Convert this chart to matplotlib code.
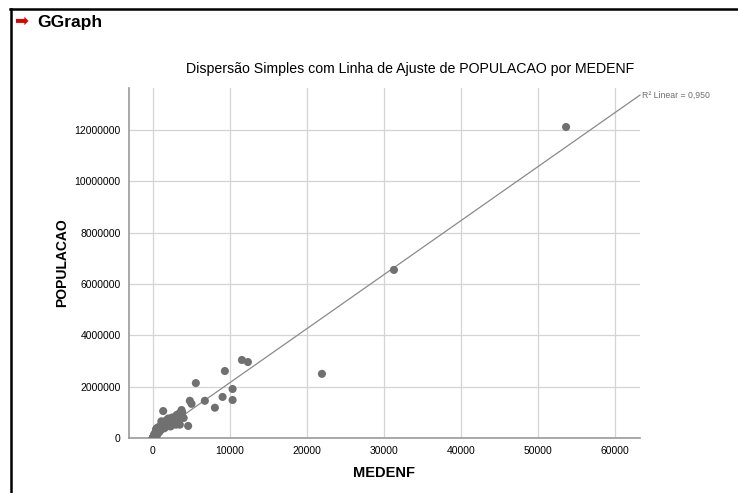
import matplotlib
matplotlib.use('Agg')
import matplotlib.pyplot as plt
from matplotlib.lines import Line2D
import numpy as np

plt.rcParams['font.family'] = ['Liberation Sans', 'DejaVu Sans']

# values (MEDENF, POPULACAO)
medenf_big = [53650, 31300, 21950, 11560, 12340, 9350, 5580, 10350, 9050,
              10350, 6750, 4800, 5020, 8050, 1340, 3720, 4580]
pop_big = [12120000, 6550000, 2500000, 3040000, 2960000, 2610000, 2140000,
           1910000, 1600000, 1480000, 1450000, 1450000, 1330000, 1180000,
           1050000, 1090000, 470000]

medenf_cluster = [30, 60, 90, 120, 150, 180, 220, 260, 300, 350, 400, 450, 500,
                  560, 620, 680, 750, 820, 900, 980, 1050, 1130, 1200, 1300,
                  1400, 1500, 1600, 1700, 1800, 1900, 2000, 2100, 2200, 2350,
                  2500, 2650, 2800, 2950, 3100, 3250, 3400, 3600, 3800, 4000,
                  3500, 250, 700, 1000, 1500, 2300, 3000, 400, 800, 150, 600,
                  1100, 1900, 2700, 3300, 500]
pop_cluster = [20000, 40000, 25000, 60000, 90000, 50000, 110000, 80000, 140000,
               120000, 200000, 150000, 260000, 180000, 300000, 220000, 350000,
               260000, 420000, 330000, 500000, 380000, 560000, 430000, 600000,
               480000, 650000, 520000, 700000, 560000, 760000, 600000, 720000,
               620000, 800000, 650000, 750000, 680000, 900000, 720000, 950000,
               800000, 1000000, 780000, 520000, 180000, 420000, 300000, 380000,
               450000, 520000, 330000, 220000, 130000, 380000, 650000, 460000,
               540000, 600000, 380000]

# many small municipalities piled up at the origin
medenf_small = [5, 10, 15, 20, 25, 35, 40, 45, 50, 55, 65, 70, 75, 80, 85, 95,
                100, 110, 130, 140, 160, 170, 190, 200, 210, 230, 240, 270,
                280, 290, 310, 320, 330, 340, 360, 380, 420, 440, 460, 480,
                2, 4, 6, 8, 12, 14, 18, 22, 28, 32, 38, 42, 48, 52, 58, 62,
                68, 72, 78, 88, 92, 105, 115, 125, 135, 145, 155, 165, 175,
                185, 195, 205, 215, 225, 235, 245, 255, 265, 275, 285]
pop_small = [3000, 5000, 6000, 8000, 7000, 9000, 12000, 10000, 14000, 11000,
             15000, 18000, 16000, 20000, 17000, 22000, 24000, 21000, 28000,
             26000, 33000, 30000, 36000, 38000, 35000, 42000, 40000, 48000,
             52000, 50000, 56000, 58000, 55000, 62000, 66000, 70000, 78000,
             82000, 86000, 90000,
             2000, 2500, 3500, 4000, 4500, 5500, 6500, 7500, 8500, 9500,
             10500, 11500, 12500, 13000, 13500, 14500, 15500, 16500, 17500,
             19000, 21000, 23000, 25000, 27000, 29000, 31000, 32000, 34000,
             37000, 39000, 41000, 43000, 44000, 46000, 47000, 49000, 51000,
             53000, 54000, 57000]

medenf = np.array(medenf_big + medenf_cluster + medenf_small, dtype=float)
populacao = np.array(pop_big + pop_cluster + pop_small, dtype=float)

x_ticks = [0, 10000, 20000, 30000, 40000, 50000, 60000]
y_ticks = [0, 2000000, 4000000, 6000000, 8000000, 10000000, 12000000]
x_lim = (-3100, 63250)
y_lim = (0, 13640000)
r2_label = 'R\u00b2 Linear = 0,950'

# linear fit
slope, intercept = np.polyfit(medenf, populacao, 1)

fig = plt.figure(figsize=(7.38, 4.93), dpi=100)
ax = fig.add_axes([129/738, 1-438/493, (640-129)/738, (438-88)/493])

ax.scatter(medenf, populacao, s=34, color='#707070', edgecolors='none', zorder=3)
xf = np.array([min(medenf), x_lim[1]])
ax.plot(xf, slope*xf + intercept, color='#8a8a8a', lw=0.9, zorder=2, clip_on=False)
ax.text(x_lim[1] + 300, slope*x_lim[1] + intercept, r2_label, fontsize=6.3,
        color='#707070', ha='left', va='center')

ax.set_xlim(*x_lim)
ax.set_ylim(*y_lim)
ax.set_xticks(x_ticks)
ax.set_yticks(y_ticks)
ax.set_xticklabels([str(v) for v in x_ticks])
ax.set_yticklabels([str(v) for v in y_ticks])
ax.tick_params(length=0, labelsize=7.5, colors='black', pad=6)
ax.grid(True, color='#d4d4d4', lw=0.9)
ax.set_axisbelow(True)
for s in ['top', 'right']:
    ax.spines[s].set_visible(False)
for s in ['left', 'bottom']:
    ax.spines[s].set_color('#9a9a9a')
    ax.spines[s].set_linewidth(1.2)

ax.set_xlabel('MEDENF', fontsize=10.5, fontweight='bold', labelpad=7)
ax.set_ylabel('POPULACAO', fontsize=10, fontweight='bold', labelpad=4)

fig.text(410/738, 1-69/493, 'Dispersão Simples com Linha de Ajuste de POPULACAO por MEDENF',
         fontsize=10.2, ha='center', va='center')

# header and frame
fig.text(37/738, 1-22/493, 'GGraph', fontsize=12.5, fontweight='bold', va='center')
fig.text(14/738, 1-21/493, '\u27a1', fontsize=12, color='#e00000', va='center',
         family=['DejaVu Sans'])
fig.add_artist(Line2D([10/738, 1], [1-9/493, 1-9/493], color='black', lw=1.8))
fig.add_artist(Line2D([11/738, 11/738], [0, 1-9/493], color='black', lw=1.8))

fig.savefig('out.png', dpi=100)
